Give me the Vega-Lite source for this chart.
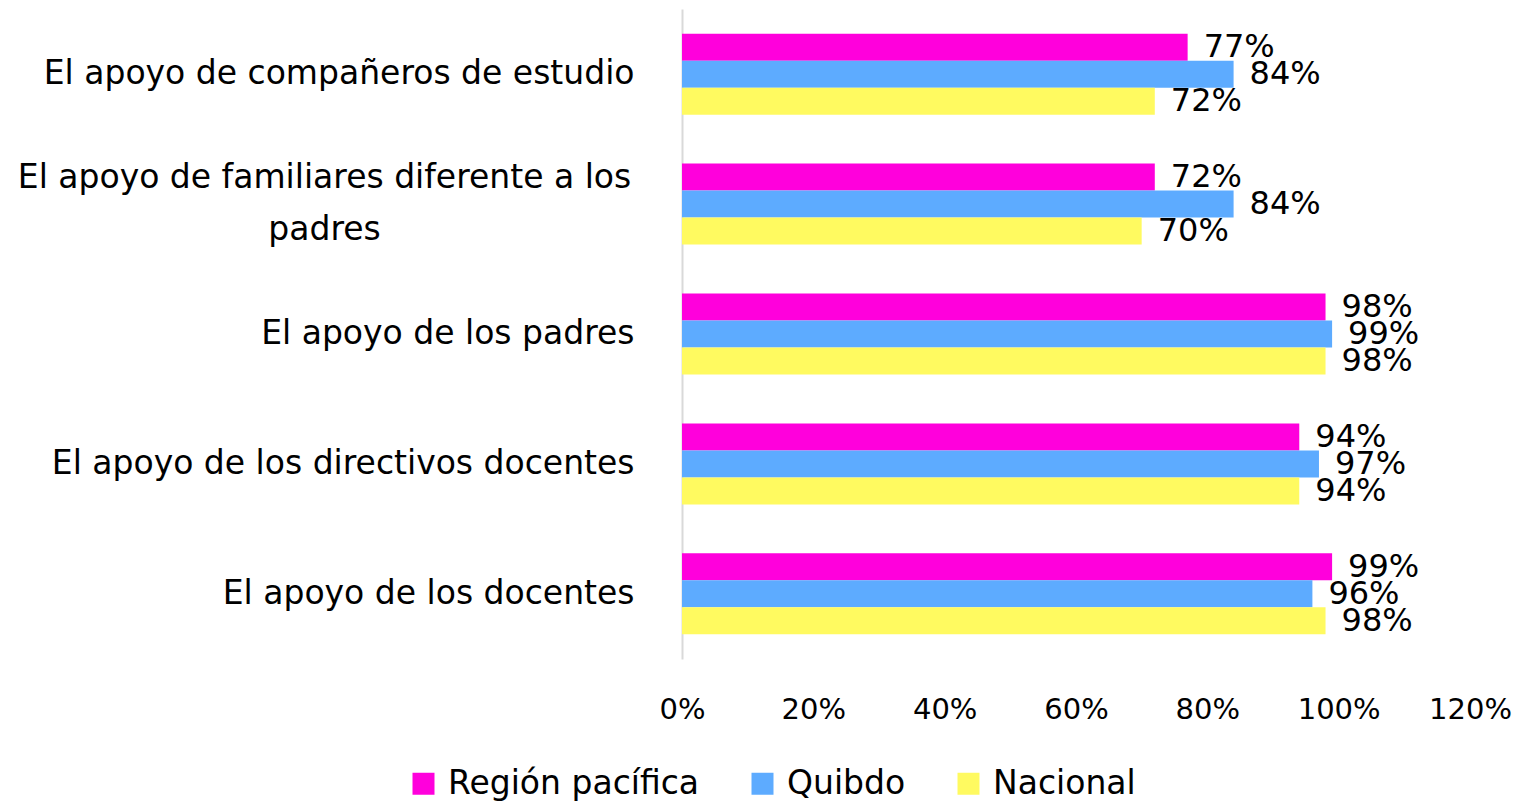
{
  "$schema": "https://vega.github.io/schema/vega-lite/v6.json",
  "autosize": "none",
  "width": 788,
  "height": 650,
  "padding": {"left": 682, "top": 9, "right": 46, "bottom": 143},
  "background": "white",
  "config": {
    "view": {"stroke": null},
    "font": "DejaVu Sans",
    "text": {"font": "DejaVu Sans"}
  },
  "data": {
    "values": [
      {"item": "El apoyo de compañeros de estudio", "serie": "Región pacífica", "v": 0.77},
      {"item": "El apoyo de compañeros de estudio", "serie": "Quibdo", "v": 0.84},
      {"item": "El apoyo de compañeros de estudio", "serie": "Nacional", "v": 0.72},
      {"item": "El apoyo de familiares diferente a los padres", "serie": "Región pacífica", "v": 0.72},
      {"item": "El apoyo de familiares diferente a los padres", "serie": "Quibdo", "v": 0.84},
      {"item": "El apoyo de familiares diferente a los padres", "serie": "Nacional", "v": 0.70},
      {"item": "El apoyo de los padres", "serie": "Región pacífica", "v": 0.98},
      {"item": "El apoyo de los padres", "serie": "Quibdo", "v": 0.99},
      {"item": "El apoyo de los padres", "serie": "Nacional", "v": 0.98},
      {"item": "El apoyo de los directivos docentes", "serie": "Región pacífica", "v": 0.94},
      {"item": "El apoyo de los directivos docentes", "serie": "Quibdo", "v": 0.97},
      {"item": "El apoyo de los directivos docentes", "serie": "Nacional", "v": 0.94},
      {"item": "El apoyo de los docentes", "serie": "Región pacífica", "v": 0.99},
      {"item": "El apoyo de los docentes", "serie": "Quibdo", "v": 0.96},
      {"item": "El apoyo de los docentes", "serie": "Nacional", "v": 0.98}
    ]
  },
  "encoding": {
    "y": {
      "field": "item",
      "type": "nominal",
      "sort": null,
      "title": null,
      "scale": {"paddingInner": 0.377, "paddingOuter": 0.19},
      "axis": {
        "domain": true,
        "domainColor": "#D9D9D9",
        "domainWidth": 2,
        "ticks": false,
        "labelFontSize": 33,
        "labelColor": "#000000",
        "labelLimit": 700,
        "labelLineHeight": 52,
        "labelPadding": {"condition": {"test": "datum.value == 'El apoyo de familiares diferente a los padres'", "value": 358}, "value": 48},
        "labelAlign": {"condition": {"test": "datum.value == 'El apoyo de familiares diferente a los padres'", "value": "center"}, "value": "right"},
        "labelOffset": {"condition": {"test": "datum.value == 'El apoyo de familiares diferente a los padres'", "value": -26}, "value": 0},
        "labelExpr": "datum.value == 'El apoyo de familiares diferente a los padres' ? ['El apoyo de familiares diferente a los', 'padres'] : datum.value"
      }
    },
    "yOffset": {
      "field": "serie",
      "type": "nominal",
      "sort": ["Región pacífica", "Quibdo", "Nacional"],
      "scale": {"paddingInner": 0, "paddingOuter": 0}
    },
    "x": {
      "field": "v",
      "type": "quantitative",
      "title": null,
      "scale": {"domain": [0, 1.2], "nice": false},
      "axis": {
        "values": [0, 0.2, 0.4, 0.6, 0.8, 1.0, 1.2],
        "format": ".0%",
        "grid": false,
        "domain": false,
        "ticks": false,
        "labelFontSize": 29,
        "labelColor": "#000000",
        "labelPadding": 36,
        "labelFlush": false
      }
    }
  },
  "layer": [
    {
      "mark": {"type": "bar"},
      "encoding": {
        "color": {
          "field": "serie",
          "type": "nominal",
          "sort": ["Región pacífica", "Quibdo", "Nacional"],
          "scale": {
            "domain": ["Región pacífica", "Quibdo", "Nacional"],
            "range": ["#FF00DC", "#5DABFF", "#FFFA60"]
          },
          "legend": {
            "title": null,
            "orient": "none",
            "legendX": -275,
            "legendY": 758,
            "direction": "horizontal",
            "symbolType": "square",
            "symbolSize": 484,
            "symbolStrokeWidth": 0,
            "labelFontSize": 33,
            "labelLimit": 500,
            "labelColor": "#000000",
            "columnPadding": 46,
            "labelOffset": 8
          }
        }
      }
    },
    {
      "mark": {"type": "text", "align": "left", "baseline": "middle", "dx": 16, "fontSize": 32, "color": "#000000"},
      "encoding": {
        "text": {"field": "v", "type": "quantitative", "format": ".0%"}
      }
    }
  ]
}
